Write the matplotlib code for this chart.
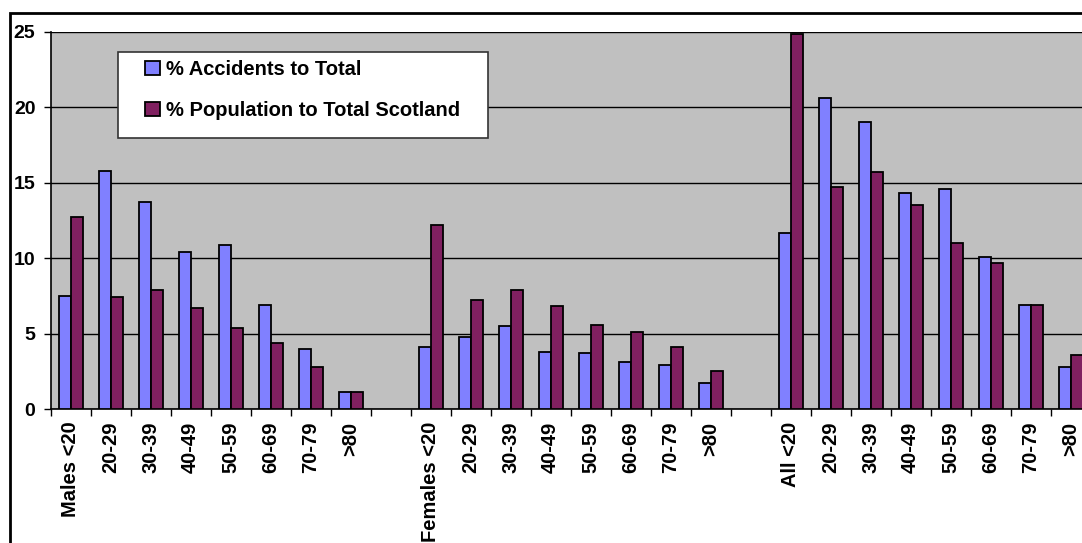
import numpy as np
import matplotlib.pyplot as plt
from matplotlib.patches import Rectangle

plt.rcParams['font.family'] = ['Liberation Sans', 'DejaVu Sans']
plt.rcParams['font.weight'] = 'bold'

ages = ['<20', '20-29', '30-39', '40-49', '50-59', '60-69', '70-79', '>80']

males_acc = [7.5, 15.8, 13.7, 10.4, 10.9, 6.9, 4.0, 1.1]
males_pop = [12.7, 7.4, 7.9, 6.7, 5.4, 4.4, 2.8, 1.1]
females_acc = [4.1, 4.8, 5.5, 3.8, 3.7, 3.1, 2.9, 1.7]
females_pop = [12.2, 7.2, 7.9, 6.8, 5.6, 5.1, 4.1, 2.5]
all_acc = [11.7, 20.6, 19.0, 14.3, 14.6, 10.1, 6.9, 2.8]
all_pop = [24.9, 14.7, 15.7, 13.5, 11.0, 9.7, 6.9, 3.6]

# three groups of eight, one empty slot between groups
labels = (['Males <20'] + ages[1:] + [''] +
          ['Females <20'] + ages[1:] + [''] +
          ['All <20'] + ages[1:])
acc = males_acc + [np.nan] + females_acc + [np.nan] + all_acc
pop = males_pop + [np.nan] + females_pop + [np.nan] + all_pop

blue = '#8080FF'
plum = '#802060'

fig = plt.figure(figsize=(10.82, 5.43), dpi=100)
ax = fig.add_axes([50.7 / 1082, 1 - 409 / 543, 1040 / 1082, 377 / 543])
ax.set_facecolor('#C0C0C0')

x = np.arange(len(labels)) + 0.5
w = 0.3
ax.bar(x - w / 2, acc, w, color=blue, edgecolor='black', linewidth=1.3, zorder=3)
ax.bar(x + w / 2, pop, w, color=plum, edgecolor='black', linewidth=1.3, zorder=3)

ax.set_xlim(0, len(labels))
ax.set_ylim(0, 25)
ax.set_yticks([0, 5, 10, 15, 20, 25])
ax.yaxis.grid(True, color='black', linewidth=1.0, zorder=1)
ax.set_axisbelow(True)

# slot boundaries get the tick marks, labels sit at the slot centres
ax.set_xticks(np.arange(len(labels) + 1))
ax.set_xticklabels([])
ax.set_xticks(x, minor=True)
ax.set_xticklabels(labels, minor=True, rotation=90, fontsize=14.5, fontweight='bold')
ax.tick_params(axis='x', which='major', direction='out', length=5, width=1, color='black')
ax.tick_params(axis='x', which='minor', length=0, pad=9)
ax.tick_params(axis='y', direction='out', length=5, width=1, labelsize=14, pad=6)
for t in ax.get_yticklabels():
    t.set_fontweight('bold')

for s in ['top', 'right']:
    ax.spines[s].set_visible(False)
for s in ['left', 'bottom']:
    ax.spines[s].set_linewidth(1.2)
    ax.spines[s].set_color('black')

# legend: white box drawn behind a frameless legend
box = Rectangle((118 / 1082, 1 - 138 / 543), 370 / 1082, 86 / 543,
                transform=fig.transFigure, facecolor='white',
                edgecolor='#333333', linewidth=1.2, zorder=5)
fig.patches.append(box)
handles = [Rectangle((0, 0), 1, 1, facecolor=blue, edgecolor='black', linewidth=1.3),
           Rectangle((0, 0), 1, 1, facecolor=plum, edgecolor='black', linewidth=1.3)]
leg = fig.legend(handles, ['% Accidents to Total', '% Population to Total Scotland'],
                 loc='upper left', bbox_to_anchor=(145 / 1082, 1 - 60 / 543),
                 frameon=False, borderpad=0, borderaxespad=0,
                 handlelength=0.74, handleheight=0.72, handletextpad=0.28,
                 labelspacing=1.1, prop={'size': 14.5, 'weight': 'bold'})
leg.set_zorder(6)

# outer chart border
fig.patches.append(Rectangle((10 / 1082, -0.05), 1.1, 1 - 13 / 543 + 0.05,
                             transform=fig.transFigure, fill=False,
                             edgecolor='black', linewidth=2.0))

fig.savefig('out.png', dpi=100)
